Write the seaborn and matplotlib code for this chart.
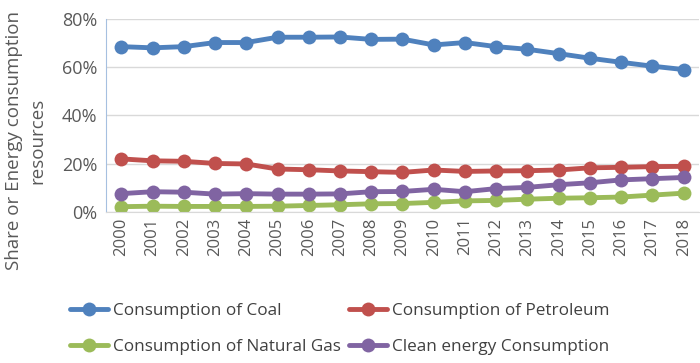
import numpy as np
import pandas as pd
import matplotlib
matplotlib.use('Agg')
import matplotlib.pyplot as plt
import seaborn as sns
from matplotlib.ticker import PercentFormatter, FixedLocator

years = [str(y) for y in range(2000, 2019)]
coal = [68.5, 68.0, 68.5, 70.2, 70.2, 72.4, 72.4, 72.5, 71.5, 71.6, 69.2, 70.2, 68.5, 67.4, 65.6, 63.7, 62.0, 60.4, 59.0]
petroleum = [22.0, 21.2, 21.0, 20.1, 19.9, 17.8, 17.5, 17.0, 16.7, 16.4, 17.4, 16.8, 17.0, 17.1, 17.4, 18.3, 18.5, 18.8, 18.9]
natural_gas = [2.2, 2.4, 2.3, 2.3, 2.3, 2.4, 2.7, 3.0, 3.4, 3.5, 4.0, 4.6, 4.8, 5.3, 5.7, 5.9, 6.2, 7.0, 7.8]
clean = [7.6, 8.4, 8.2, 7.4, 7.6, 7.4, 7.4, 7.5, 8.4, 8.5, 9.4, 8.4, 9.7, 10.2, 11.3, 12.1, 13.3, 13.8, 14.3]

series = {
    'Consumption of Coal': coal,
    'Consumption of Petroleum': petroleum,
    'Consumption of Natural Gas': natural_gas,
    'Clean energy Consumption': clean,
}
colors = ['#4F81BD', '#C0504D', '#9BBB59', '#8064A2']

df = pd.concat([pd.DataFrame({'year': years, 'share': v, 'kind': k}) for k, v in series.items()])

sns.set_style('white')
plt.rcParams['font.family'] = ['Open Sans', 'DejaVu Sans']

fig = plt.figure(figsize=(7, 3.63), dpi=100)
ax = fig.add_axes([0.151, 0.416, 0.848, 0.532])

sns.lineplot(data=df, x='year', y='share', hue='kind', palette=colors, marker='o',
             markersize=10, markeredgewidth=0, linewidth=3.5, sort=False, ax=ax, legend=True)

ax.set_xlim(-0.5, 18.5)
ax.set_ylim(0, 80)
ax.set_yticks([0, 20, 40, 60, 80])
ax.yaxis.set_major_formatter(PercentFormatter(decimals=0))
ax.grid(axis='y', color='#D9D9D9', linewidth=1)
ax.set_axisbelow(True)
for s in ['top', 'right']:
    ax.spines[s].set_visible(False)
ax.spines['left'].set_color('#A6C0E0')
ax.spines['bottom'].set_color('#D9D9D9')

ax.tick_params(axis='y', labelsize=13, labelcolor='#595959', length=0, pad=6)
ax.tick_params(axis='x', labelsize=12, labelcolor='#595959', rotation=90, length=0, pad=4)
ax.xaxis.set_minor_locator(FixedLocator(np.arange(-0.5, 19, 1)))
ax.tick_params(axis='x', which='minor', length=6, color='#D9D9D9', direction='out')

ax.set_xlabel('')
ax.set_ylabel('Share or Energy consumption\nresources', fontsize=13.5, color='#595959',
              linespacing=1.4)
ax.yaxis.set_label_coords(-0.1, 0.37)

handles, labels = ax.get_legend_handles_labels()
ax.get_legend().remove()
order = [0, 2, 1, 3]
fig.legend([handles[i] for i in order], [labels[i] for i in order], ncol=2, loc='lower left',
           bbox_to_anchor=(0.078, -0.02), frameon=False, fontsize=12.3, labelcolor='#404040',
           handlelength=2.2, handletextpad=0.3, columnspacing=0.5, labelspacing=1.15)

fig.savefig('out.png', dpi=100)
